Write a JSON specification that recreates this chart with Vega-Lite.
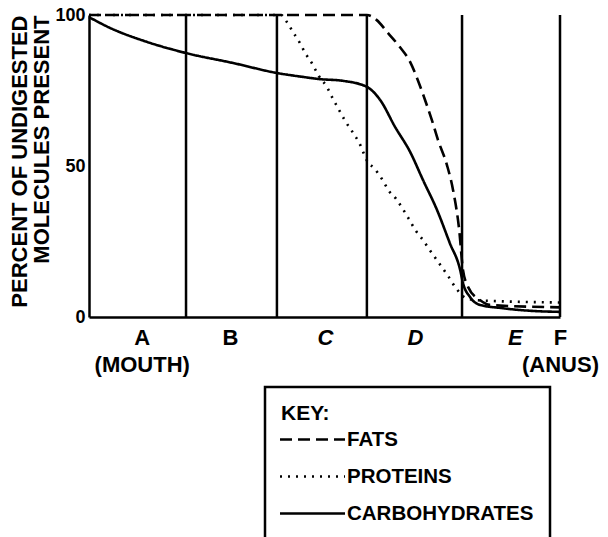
{
  "$schema": "https://vega.github.io/schema/vega-lite/v6.json",
  "width": 471,
  "height": 302,
  "autosize": {"type": "none"},
  "padding": {"left": 89, "top": 15, "right": 48, "bottom": 220},
  "background": "white",
  "config": {
    "view": {"stroke": null},
    "font": "Liberation Sans",
    "axis": {"grid": false, "ticks": false, "domainColor": "black", "domainWidth": 2.5, "labelColor": "black", "titleColor": "black"},
    "legend": {"strokeColor": "black", "strokeWidth": 2.5, "padding": 16}
  },
  "datasets": {
    "curves": [
      {"nutrient": "FATS", "pos": 0, "pct": 100},
      {"nutrient": "FATS", "pos": 59.0, "pct": 100},
      {"nutrient": "FATS", "pos": 61.1, "pct": 98.3},
      {"nutrient": "FATS", "pos": 63.5, "pct": 94},
      {"nutrient": "FATS", "pos": 66.0, "pct": 89.4},
      {"nutrient": "FATS", "pos": 68.2, "pct": 84.4},
      {"nutrient": "FATS", "pos": 69.8, "pct": 78.5},
      {"nutrient": "FATS", "pos": 71.2, "pct": 72.5},
      {"nutrient": "FATS", "pos": 72.8, "pct": 65.2},
      {"nutrient": "FATS", "pos": 74.1, "pct": 58.6},
      {"nutrient": "FATS", "pos": 76.0, "pct": 50.3},
      {"nutrient": "FATS", "pos": 77.3, "pct": 42},
      {"nutrient": "FATS", "pos": 78.6, "pct": 28.8},
      {"nutrient": "FATS", "pos": 79.4, "pct": 15.6},
      {"nutrient": "FATS", "pos": 80.5, "pct": 9.9},
      {"nutrient": "FATS", "pos": 83.0, "pct": 5.6},
      {"nutrient": "FATS", "pos": 85.1, "pct": 4.0},
      {"nutrient": "FATS", "pos": 100, "pct": 3.2},
      {"nutrient": "PROTEINS", "pos": 0, "pct": 100},
      {"nutrient": "PROTEINS", "pos": 40.8, "pct": 100},
      {"nutrient": "PROTEINS", "pos": 42.0, "pct": 97.7},
      {"nutrient": "PROTEINS", "pos": 43.3, "pct": 94.4},
      {"nutrient": "PROTEINS", "pos": 44.8, "pct": 90.7},
      {"nutrient": "PROTEINS", "pos": 45.9, "pct": 87.4},
      {"nutrient": "PROTEINS", "pos": 47.3, "pct": 84.1},
      {"nutrient": "PROTEINS", "pos": 48.8, "pct": 79.8},
      {"nutrient": "PROTEINS", "pos": 50.5, "pct": 76.2},
      {"nutrient": "PROTEINS", "pos": 51.8, "pct": 72.2},
      {"nutrient": "PROTEINS", "pos": 53.1, "pct": 68.5},
      {"nutrient": "PROTEINS", "pos": 54.4, "pct": 64.9},
      {"nutrient": "PROTEINS", "pos": 56.1, "pct": 60.9},
      {"nutrient": "PROTEINS", "pos": 57.3, "pct": 57.9},
      {"nutrient": "PROTEINS", "pos": 59.2, "pct": 51.3},
      {"nutrient": "PROTEINS", "pos": 60.5, "pct": 49.3},
      {"nutrient": "PROTEINS", "pos": 62.2, "pct": 45.7},
      {"nutrient": "PROTEINS", "pos": 63.7, "pct": 41.7},
      {"nutrient": "PROTEINS", "pos": 65.2, "pct": 39.1},
      {"nutrient": "PROTEINS", "pos": 66.5, "pct": 36.1},
      {"nutrient": "PROTEINS", "pos": 67.9, "pct": 32.5},
      {"nutrient": "PROTEINS", "pos": 69.4, "pct": 28.5},
      {"nutrient": "PROTEINS", "pos": 70.9, "pct": 25.5},
      {"nutrient": "PROTEINS", "pos": 72.2, "pct": 22.5},
      {"nutrient": "PROTEINS", "pos": 73.7, "pct": 19.2},
      {"nutrient": "PROTEINS", "pos": 75.2, "pct": 15.9},
      {"nutrient": "PROTEINS", "pos": 76.4, "pct": 13.2},
      {"nutrient": "PROTEINS", "pos": 77.9, "pct": 9.6},
      {"nutrient": "PROTEINS", "pos": 80.0, "pct": 6.3},
      {"nutrient": "PROTEINS", "pos": 83.0, "pct": 5.5},
      {"nutrient": "PROTEINS", "pos": 100, "pct": 4.8},
      {"nutrient": "CARBOHYDRATES", "pos": 0, "pct": 99.3},
      {"nutrient": "CARBOHYDRATES", "pos": 4.5, "pct": 95.7},
      {"nutrient": "CARBOHYDRATES", "pos": 12.3, "pct": 91.1},
      {"nutrient": "CARBOHYDRATES", "pos": 20.6, "pct": 87.4},
      {"nutrient": "CARBOHYDRATES", "pos": 30.6, "pct": 84.1},
      {"nutrient": "CARBOHYDRATES", "pos": 39.9, "pct": 80.8},
      {"nutrient": "CARBOHYDRATES", "pos": 45.4, "pct": 79.5},
      {"nutrient": "CARBOHYDRATES", "pos": 48.8, "pct": 78.8},
      {"nutrient": "CARBOHYDRATES", "pos": 53.9, "pct": 78.2},
      {"nutrient": "CARBOHYDRATES", "pos": 59.0, "pct": 76.2},
      {"nutrient": "CARBOHYDRATES", "pos": 61.8, "pct": 71.9},
      {"nutrient": "CARBOHYDRATES", "pos": 65.0, "pct": 62.9},
      {"nutrient": "CARBOHYDRATES", "pos": 68.2, "pct": 54.6},
      {"nutrient": "CARBOHYDRATES", "pos": 70.9, "pct": 45.4},
      {"nutrient": "CARBOHYDRATES", "pos": 73.9, "pct": 35.4},
      {"nutrient": "CARBOHYDRATES", "pos": 76.6, "pct": 24.5},
      {"nutrient": "CARBOHYDRATES", "pos": 78.8, "pct": 15.6},
      {"nutrient": "CARBOHYDRATES", "pos": 79.4, "pct": 11.3},
      {"nutrient": "CARBOHYDRATES", "pos": 80.9, "pct": 6.6},
      {"nutrient": "CARBOHYDRATES", "pos": 83.0, "pct": 4.0},
      {"nutrient": "CARBOHYDRATES", "pos": 87.3, "pct": 3.0},
      {"nutrient": "CARBOHYDRATES", "pos": 94.3, "pct": 2.0},
      {"nutrient": "CARBOHYDRATES", "pos": 100, "pct": 1.7}
    ],
    "boundaries": [
      {"pos": 20.6}, {"pos": 39.9}, {"pos": 59.0}, {"pos": 79.2}, {"pos": 100}
    ]
  },
  "layer": [
    {
      "data": {"name": "boundaries"},
      "mark": {"type": "rule", "color": "black", "strokeWidth": 2.5},
      "encoding": {
        "x": {"field": "pos", "type": "quantitative"},
        "y": {"datum": 0, "type": "quantitative"},
        "y2": {"datum": 100}
      }
    },
    {
      "data": {"name": "curves"},
      "mark": {"type": "line", "color": "black", "strokeWidth": 2.6, "interpolate": "monotone", "strokeCap": "butt"},
      "encoding": {
        "x": {
          "field": "pos", "type": "quantitative",
          "scale": {"domain": [0, 100], "nice": false},
          "axis": {
            "title": null,
            "values": [11.2, 29.9, 50.1, 69.2, 90.4, 100],
            "labelExpr": "datum.value < 15 ? ['A', '(MOUTH)'] : datum.value < 35 ? 'B' : datum.value < 60 ? 'C' : datum.value < 80 ? 'D' : datum.value < 95 ? 'E' : ['F', '(ANUS)']",
            "labelFontSize": 22,
            "labelFontWeight": "bold",
            "labelFontStyle": {"condition": {"test": "datum.value > 40 && datum.value < 99", "value": "italic"}, "value": "normal"},
            "labelLineHeight": 27,
            "labelPadding": 10,
            "labelOverlap": false,
            "labelFlush": false,
            "labelBound": false
          }
        },
        "y": {
          "field": "pct", "type": "quantitative",
          "scale": {"domain": [0, 100], "nice": false},
          "axis": {
            "title": ["PERCENT OF UNDIGESTED", "MOLECULES PRESENT"],
            "titleFontSize": 22,
            "titleFontWeight": "bold",
            "titleAnchor": "end",
            "titleAlign": "right",
            "titleLineHeight": 22,
            "titlePadding": 1,
            "values": [0, 50, 100],
            "labelFontSize": 18,
            "labelFontWeight": "bold",
            "labelPadding": 4
          }
        },
        "strokeDash": {
          "field": "nutrient", "type": "nominal",
          "scale": {"domain": ["FATS", "PROTEINS", "CARBOHYDRATES"], "range": [[12, 6], [2, 6], [1, 0]]},
          "legend": {
            "title": "KEY:",
            "orient": "none",
            "legendX": 176,
            "legendY": 372,
            "titleFontSize": 21,
            "titleFontWeight": "bold",
            "titleColor": "black",
            "titlePadding": 4,
            "labelFontSize": 20.5,
            "labelFontWeight": "bold",
            "labelColor": "black",
            "labelOffset": 23,
            "labelLimit": 400,
            "symbolType": "M-3.25,0H3.25",
            "symbolSize": 400,
            "symbolOffset": 20,
            "symbolStrokeWidth": 2.5,
            "symbolStrokeColor": "black",
            "symbolFillColor": "transparent",
            "rowPadding": 15
          }
        }
      }
    }
  ]
}
